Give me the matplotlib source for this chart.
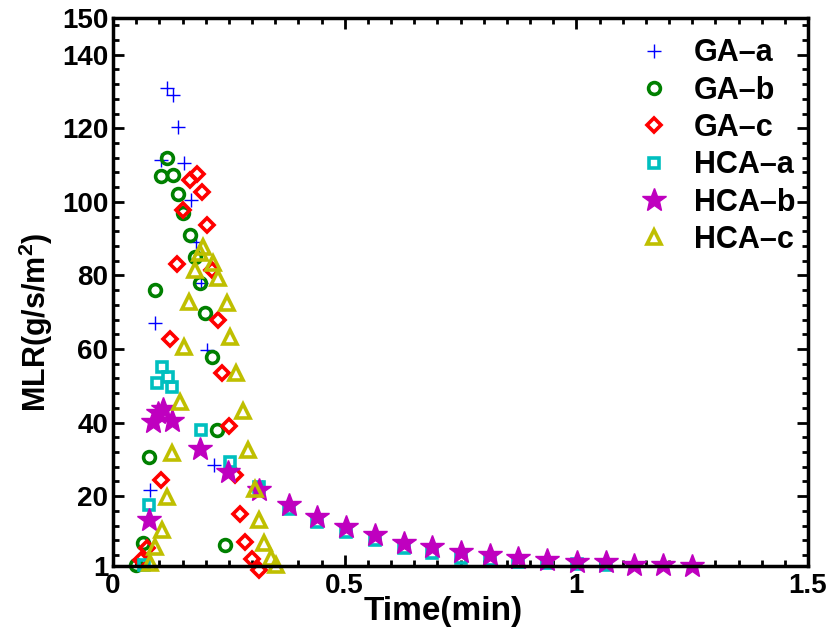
import matplotlib.pyplot as plt
from matplotlib.ticker import MultipleLocator

plt.rcParams['font.family'] = ['Liberation Sans', 'DejaVu Sans']
plt.rcParams['font.weight'] = 'bold'
plt.rcParams['mathtext.fontset'] = 'custom'
plt.rcParams['mathtext.rm'] = 'Liberation Sans:bold'
plt.rcParams['mathtext.bf'] = 'Liberation Sans:bold'

# GA-a (blue plus)
ga_a_t = [0.080, 0.091, 0.104, 0.116, 0.129, 0.141, 0.154, 0.168, 0.180, 0.190, 0.202, 0.217, 0.321]
ga_a_mlr = [21.7, 67.1, 111.4, 130.9, 129.1, 120.4, 110.7, 100.5, 89.2, 78.0, 59.7, 28.5, 22.6]

# GA-b (green circles)
ga_b_t = [0.050, 0.064, 0.078, 0.091, 0.104, 0.116, 0.129, 0.141, 0.152, 0.166, 0.177, 0.187, 0.198,
          0.214, 0.225, 0.242]
ga_b_mlr = [1.3, 7.3, 30.7, 76.0, 107.0, 111.8, 107.3, 102.1, 96.9, 91.0, 85.1, 77.9, 69.7,
            57.9, 38.0, 6.7]

# GA-c (red diamonds)
ga_c_t = [0.061, 0.073, 0.103, 0.122, 0.137, 0.151, 0.166, 0.181, 0.191, 0.202, 0.213, 0.227, 0.235,
          0.250, 0.263, 0.274, 0.284, 0.299, 0.316]
ga_c_mlr = [2.5, 6.0, 24.5, 62.6, 83.0, 97.8, 106.0, 107.7, 102.8, 93.7, 81.5, 67.9, 53.6,
            39.0, 25.6, 15.1, 7.4, 3.0, 0.0]

# HCA-a (cyan squares)
hca_a_t = [0.066, 0.078, 0.094, 0.105, 0.119, 0.127, 0.190, 0.253, 0.316, 0.379, 0.440, 0.503, 0.565,
           0.627, 0.688, 0.750, 0.814, 0.875, 0.936, 1.001, 1.063]
hca_a_mlr = [1.3, 17.6, 50.8, 55.0, 52.3, 49.6, 38.0, 29.4, 22.5, 16.5, 13.0, 10.2, 8.1,
             5.9, 4.5, 3.3, 2.6, 2.2, 1.8, 1.5, 1.3]

# HCA-b (magenta stars)
hca_b_t = [0.078, 0.087, 0.097, 0.108, 0.127, 0.188, 0.249, 0.316, 0.379, 0.440, 0.503, 0.565, 0.627,
           0.688, 0.750, 0.814, 0.875, 0.936, 1.001, 1.063, 1.124, 1.188, 1.249]
hca_b_mlr = [13.5, 40.2, 42.5, 43.6, 40.4, 32.7, 26.6, 21.7, 17.6, 14.4, 11.7, 9.4, 7.2,
             6.1, 4.9, 4.0, 3.1, 2.6, 2.1, 2.1, 1.3, 1.3, 1.0]

# HCA-c (olive triangles)
hca_c_t = [0.080, 0.091, 0.105, 0.116, 0.127, 0.145, 0.153, 0.165, 0.177, 0.188, 0.195, 0.216, 0.227,
           0.245, 0.253, 0.265, 0.280, 0.291, 0.306, 0.316, 0.326, 0.340, 0.352]
hca_c_mlr = [1.7, 6.2, 10.8, 19.7, 31.8, 45.7, 60.5, 72.9, 81.5, 86.0, 87.8, 83.5, 79.2,
             72.4, 63.2, 53.6, 43.2, 32.5, 22.0, 13.5, 7.2, 3.1, 1.2]

fig = plt.figure(figsize=(8.33, 6.38), dpi=100)
ax = fig.add_axes([0.1357, 0.1129, 0.8343, 0.8589])

kw = dict(linestyle='none', clip_on=False)
ax.plot(ga_a_t, ga_a_mlr, '+', color=(0, 0, 1), ms=10, mew=1.0, label='GA–a', **kw)
ax.plot(ga_b_t, ga_b_mlr, 'o', color=(0, 0.5, 0), mfc='none', ms=8.5, mew=2.6, label='GA–b', **kw)
ax.plot(ga_c_t, ga_c_mlr, 'D', color=(1, 0, 0), mfc='none', ms=7.5, mew=2.6, label='GA–c', **kw)
ax.plot(hca_a_t, hca_a_mlr, 's', color=(0, 0.75, 0.75), mfc='none', ms=7, mew=2.6, label='HCA–a', **kw)
ax.plot(hca_b_t, hca_b_mlr, '*', color=(0.75, 0, 0.75), ms=18, mew=1.0, label='HCA–b', **kw)
ax.plot(hca_c_t, hca_c_mlr, '^', color=(0.75, 0.75, 0), mfc='none', ms=10, mew=2.6, label='HCA–c', **kw)

ax.set_xlim(0, 1.5)
ax.set_ylim(1, 150)
ax.set_xticks([0, 0.5, 1, 1.5])
ax.set_xticklabels(['0', '0.5', '1', '1.5'])
ax.set_yticks([1, 20, 40, 60, 80, 100, 120, 140, 150])
ax.xaxis.set_minor_locator(MultipleLocator(0.05))
ax.yaxis.set_minor_locator(MultipleLocator(4))
ax.tick_params(which='both', direction='in', top=True, right=True, labelsize=20, width=2)
ax.tick_params(which='major', length=8)
ax.tick_params(which='minor', length=4)
ax.tick_params(axis='x', pad=5)
for s in ax.spines.values():
    s.set_linewidth(2.5)

ax.set_xlabel('Time(min)', fontsize=24, fontweight='bold')
ax.set_ylabel(r'MLR(g/s/m$^{2}$)', fontsize=22, fontweight='bold')
ax.xaxis.set_label_coords(0.4755, -0.054)
ax.yaxis.set_label_coords(-0.084, 0.445)

ax.legend(loc='upper right', bbox_to_anchor=(0.999, 0.985), frameon=False, fontsize=22,
          labelspacing=0.24, handletextpad=0.55, borderaxespad=0, handlelength=1.5)

fig.savefig('out.png', dpi=100)
